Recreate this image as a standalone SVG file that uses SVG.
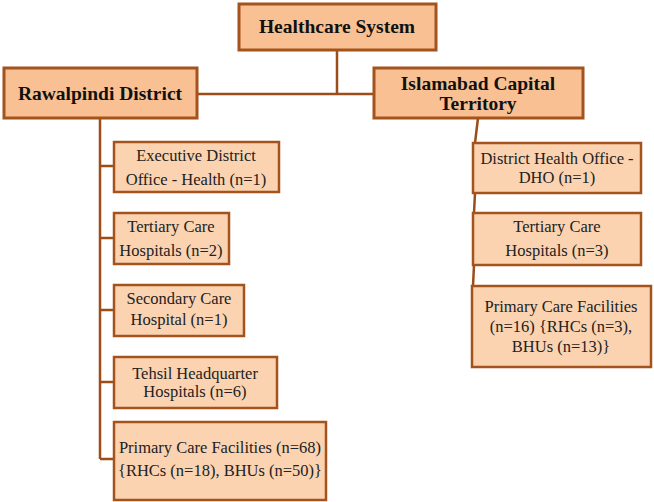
<svg xmlns="http://www.w3.org/2000/svg" width="654" height="502" viewBox="0 0 654 502">
<style>
.hdr{fill:#f9c193;stroke:#a4531c;stroke-width:3}
.box{fill:#fbd3b1;stroke:#a4531c;stroke-width:2.5}
.ht{font-family:'Liberation Serif','Times New Roman',serif;font-weight:bold;font-size:19.5px;fill:#111;text-anchor:middle}
.t{font-family:'Liberation Serif','Times New Roman',serif;font-size:16.5px;fill:#222;text-anchor:middle}
.c{fill:none;stroke:#9c4d18;stroke-width:2.5}
</style>
<rect width="654" height="502" fill="#fff"/>
<g id="connectors">
<path class="c" d="M337,50 V94 M197,94 H373"/>
<path class="c" d="M100,118 V459 M100,166 H114 M100,238 H114 M100,310 H114 M100,382 H114 M100,459 H114"/>
<path class="c" d="M478,118 L475,143 M475,193 L474,213" stroke-width="3"/>
<path class="c" d="M474,265 L473,286" stroke-width="1.5"/>
</g>
<g id="healthcare"><rect class="hdr" x="239" y="4" width="197" height="46"/><text class="ht" x="337" y="33">Healthcare System</text></g>
<g id="rawalpindi"><rect class="hdr" x="4" y="68" width="193" height="50"/><text class="ht" x="100" y="100">Rawalpindi District</text></g>
<g id="islamabad"><rect class="hdr" x="374" y="68" width="209" height="50"/><text class="ht" x="478" y="90">Islamabad Capital</text><text class="ht" x="478" y="110">Territory</text></g>
<g id="edo"><rect class="box" x="114" y="142" width="165" height="50"/><text class="t" x="196" y="161">Executive District</text><text class="t" x="196" y="185">Office - Health (n=1)</text></g>
<g id="tch2"><rect class="box" x="114" y="213" width="115" height="51"/><text class="t" x="171" y="232">Tertiary Care</text><text class="t" x="171" y="256">Hospitals (n=2)</text></g>
<g id="sch"><rect class="box" x="114" y="285" width="130" height="51"/><text class="t" x="179" y="304">Secondary Care</text><text class="t" x="179" y="325">Hospital (n=1)</text></g>
<g id="thq"><rect class="box" x="114" y="357" width="163" height="51"/><text class="t" x="195" y="379">Tehsil Headquarter</text><text class="t" x="195" y="397">Hospitals (n=6)</text></g>
<g id="pcf68"><rect class="box" x="114" y="422" width="212" height="78"/><text class="t" x="220" y="453">Primary Care Facilities (n=68)</text><text class="t" x="220" y="476">{RHCs (n=18), BHUs (n=50)}</text></g>
<g id="dho"><rect class="box" x="473" y="143" width="168" height="50"/><text class="t" x="557" y="164">District Health Office -</text><text class="t" x="557" y="183">DHO (n=1)</text></g>
<g id="tch3"><rect class="box" x="473" y="213" width="168" height="52"/><text class="t" x="557" y="232">Tertiary Care</text><text class="t" x="557" y="256">Hospitals (n=3)</text></g>
<g id="pcf16"><rect class="box" x="472" y="286" width="179" height="81"/><text class="t" x="561" y="312">Primary Care Facilities</text><text class="t" x="561" y="332">(n=16) {RHCs (n=3),</text><text class="t" x="561" y="352">BHUs (n=13)}</text></g>
</svg>
